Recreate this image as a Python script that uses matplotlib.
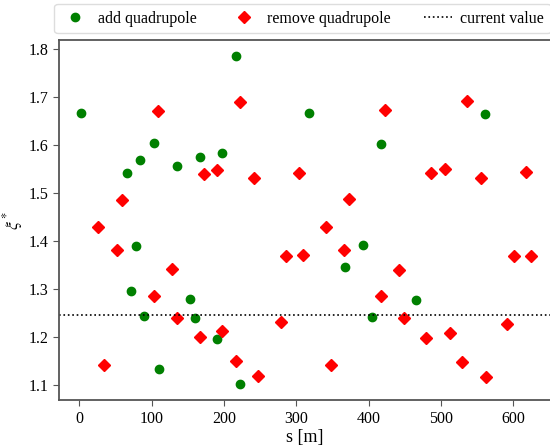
import matplotlib.pyplot as plt

plt.rcParams['font.family'] = ['Liberation Serif', 'DejaVu Serif']
plt.rcParams['mathtext.fontset'] = 'stix'

# add quadrupole (green circles)
add_s = [2.8, 216, 103, 84, 66, 135, 166.5, 197, 317, 560.6, 417,
         78, 72, 90, 110, 152.6, 160.5, 191, 222.7, 392, 367, 466, 404]
add_xi = [1.667, 1.785, 1.605, 1.568, 1.542, 1.556, 1.575, 1.583, 1.666, 1.664, 1.603,
          1.390, 1.295, 1.244, 1.134, 1.280, 1.240, 1.196, 1.102, 1.391, 1.346, 1.277, 1.242]

# remove quadrupole (red diamonds)
rem_s = [109, 222.7, 58.5, 172, 191, 241, 26, 423, 536.6, 304, 486, 505, 554.6, 618,
         372.5, 341, 52.6, 128.6, 103, 135, 166.4, 197, 34.6, 216, 247, 278.5,
         285.5, 309, 366.5, 442.6, 417.7, 448.6, 479.5, 511.8, 348, 529, 561.5,
         591.5, 600.7, 624]
rem_xi = [1.671, 1.690, 1.486, 1.539, 1.549, 1.531, 1.430, 1.674, 1.692, 1.542, 1.541,
          1.551, 1.532, 1.544, 1.487, 1.429, 1.381, 1.342, 1.285, 1.240, 1.199, 1.2125,
          1.142, 1.150, 1.119, 1.231, 1.368, 1.371, 1.382, 1.340, 1.285, 1.239, 1.198,
          1.209, 1.141, 1.1485, 1.117, 1.227, 1.368, 1.369]

current_value = 1.246

fig = plt.figure(figsize=(5.5, 4.46), dpi=100)
ax = fig.add_axes([0.1073, 0.1025, 0.8945, 0.8078])

ax.plot(add_s, add_xi, 'o', color='green', markersize=6, label='add quadrupole')
ax.plot(rem_s, rem_xi, 'D', color='red', markersize=6, label='remove quadrupole')
ax.axhline(current_value, color='black', linestyle=':', linewidth=1.2, label='current value')

ax.set_xlim(-28, 652)
ax.set_ylim(1.068, 1.819)
ax.set_xticks([0, 100, 200, 300, 400, 500, 600])
ax.set_yticks([1.1, 1.2, 1.3, 1.4, 1.5, 1.6, 1.7, 1.8])

for side in ['left', 'bottom', 'top']:
    ax.spines[side].set_color('#555555')
    ax.spines[side].set_linewidth(1.3)
ax.spines['right'].set_visible(False)
ax.tick_params(labelsize=11.5, color='#555555', length=4)

ax.set_xlabel('s [m]', fontsize=13, labelpad=2)
ax.set_ylabel(r'$\xi^*$', fontsize=13, labelpad=3)

ax.legend(loc='lower center', bbox_to_anchor=(0.55, 0.926), bbox_transform=fig.transFigure,
          ncol=3, fontsize=11.5, columnspacing=2.1, handletextpad=0.5, handlelength=1.8,
          framealpha=1, edgecolor='#dddddd', borderaxespad=0)

fig.savefig('out.png', dpi=100)
